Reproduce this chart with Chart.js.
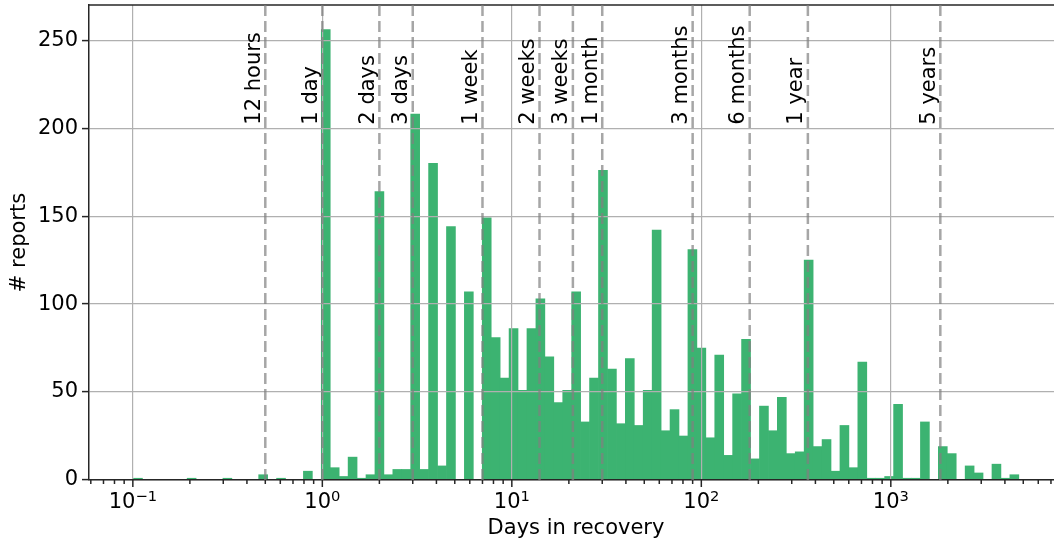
<!DOCTYPE html>
<html><head><meta charset="utf-8">
<script src="https://cdn.jsdelivr.net/npm/chart.js@4"></script>
<style>html,body{margin:0;padding:0;background:#fff;overflow:hidden}canvas{display:block}</style>
</head><body>
<canvas id="c" width="1054" height="543"></canvas>
<script>
// Histogram counts (# reports) per log-spaced bin of "days in recovery"
const counts = [
  1, 0, 0, 0, 0, 0, 1, 0, 0, 0,
  1, 0, 0, 0, 3, 0, 1, 0, 0, 5,
  0, 256, 7, 2, 13, 1, 3, 164, 3, 6,
  6, 208, 6, 180, 8, 144, 0, 107, 0, 149,
  81, 58, 86, 51, 86, 103, 70, 44, 51, 107,
  33, 58, 176, 63, 32, 69, 31, 51, 142, 28,
  40, 25, 131, 75, 24, 71, 14, 49, 80, 12,
  42, 28, 47, 15, 16, 125, 19, 23, 5, 31,
  7, 67, 1, 1, 2, 43, 1, 1, 33, 0,
  19, 15, 0, 8, 4, 0, 9, 1, 3, 0
];
const BIN_MIN = 0.1008;   // first bin edge (days)
const BIN_MAX = 5280;     // last bin edge (days)
const markerDays = [0.5, 1, 2, 3, 7, 14, 21, 30, 90, 180, 365, 1825];
const markerLabels = ['12 hours', '1 day', '2 days', '3 days', '1 week', '2 weeks', '3 weeks', '1 month', '3 months', '6 months', '1 year', '5 years'];
const majorTicks = [0.1, 1, 10, 100, 1000];
const majorExponents = ['\u22121', '0', '1', '2', '3'];
const yTicks = [0, 50, 100, 150, 200, 250];
const X_MIN = 0.0587, X_MAX = 7264;
const Y_MAX = 270;
const LABEL_Y = 202;

const nBins = counts.length;
const lo = Math.log10(BIN_MIN), hi = Math.log10(BIN_MAX);
const step = (hi - lo) / nBins;
const barData = counts.map((c, i) => ({ x: Math.pow(10, lo + (i + 0.5) * step), y: c }));

const FONT = "'DejaVu Sans', sans-serif";
const DARK = '#262626';

const decor = {
  id: 'decor',
  afterDraw(chart) {
    const { ctx, chartArea: a, scales: { x, y } } = chart;
    ctx.save();
    // top spine
    ctx.strokeStyle = DARK; ctx.lineWidth = 1.5;
    ctx.beginPath(); ctx.moveTo(a.left - 0.75, a.top); ctx.lineTo(a.right, a.top); ctx.stroke();
    // x major/minor tick marks
    for (let e = -2; e <= 4; e++) {
      for (let m = 1; m <= 9; m++) {
        const v = m * Math.pow(10, e);
        if (v < x.min || v > x.max) continue;
        const px = x.getPixelForValue(v);
        const len = m === 1 ? 7 : 4;
        ctx.beginPath(); ctx.moveTo(px, a.bottom); ctx.lineTo(px, a.bottom + len); ctx.stroke();
      }
    }
    // x tick labels 10^n
    ctx.fillStyle = '#000'; ctx.textBaseline = 'alphabetic'; ctx.textAlign = 'left';
    majorTicks.forEach((v, i) => {
      const px = x.getPixelForValue(v);
      ctx.font = `21px ${FONT}`; const w1 = ctx.measureText('10').width;
      ctx.font = `14.7px ${FONT}`; const w2 = ctx.measureText(majorExponents[i]).width;
      const x0 = px - (w1 + w2) / 2;
      ctx.font = `21px ${FONT}`; ctx.fillText('10', x0, a.bottom + 27.5);
      ctx.font = `14.7px ${FONT}`; ctx.fillText(majorExponents[i], x0 + w1, a.bottom + 21);
    });
    // dashed marker lines
    ctx.strokeStyle = 'rgba(128,128,128,0.7)'; ctx.lineWidth = 2.5; ctx.setLineDash([11, 5]);
    markerDays.forEach(d => {
      const px = x.getPixelForValue(d);
      ctx.beginPath(); ctx.moveTo(px, a.bottom); ctx.lineTo(px, a.top); ctx.stroke();
    });
    ctx.setLineDash([]);
    // marker labels
    ctx.font = `21px ${FONT}`; ctx.fillStyle = '#000';
    const ly = y.getPixelForValue(LABEL_Y);
    markerDays.forEach((d, i) => {
      const px = x.getPixelForValue(d);
      ctx.save(); ctx.translate(px - 5.5, ly); ctx.rotate(-Math.PI / 2);
      ctx.textAlign = 'left'; ctx.textBaseline = 'alphabetic';
      ctx.fillText(markerLabels[i], 0, 0);
      ctx.restore();
    });
    // axis titles
    ctx.textAlign = 'center'; ctx.textBaseline = 'alphabetic';
    ctx.fillText('Days in recovery', 576, a.bottom + 53.5);
    ctx.save(); ctx.translate(25, (a.top + a.bottom) / 2); ctx.rotate(-Math.PI / 2);
    ctx.fillText('# reports', 0, 0);
    ctx.restore();
    ctx.restore();
  }
};

new Chart(document.getElementById('c'), {
  type: 'bar',
  data: { datasets: [{ data: barData, backgroundColor: '#3cb371', borderWidth: 0, barPercentage: 1, categoryPercentage: 1 }] },
  options: {
    responsive: false, animation: false, devicePixelRatio: 1,
    layout: { padding: { top: 5, right: 0, left: 0, bottom: 0 } },
    plugins: { legend: { display: false }, tooltip: { enabled: false } },
    scales: {
      x: {
        type: 'logarithmic', min: X_MIN, max: X_MAX, offset: false,
        afterBuildTicks: s => { s.ticks = majorTicks.map(v => ({ value: v })); },
        ticks: { display: false },
        grid: { color: '#b0b0b0', lineWidth: 1.2, drawTicks: false, offset: false, z: 1 },
        border: { display: true, color: DARK, width: 1.5, z: 2 },
        afterFit: s => { s.height = 63; s.paddingLeft = 0; s.paddingRight = 0; }
      },
      y: {
        type: 'linear', min: 0, max: Y_MAX,
        afterBuildTicks: s => { s.ticks = yTicks.map(v => ({ value: v })); },
        ticks: { font: { family: FONT, size: 21 }, color: '#000', padding: 4 },
        grid: { color: '#b0b0b0', lineWidth: 1.2, tickLength: 7, tickColor: DARK, tickWidth: 1.5, z: 1 },
        border: { display: true, color: DARK, width: 1.5, z: 2 },
        afterFit: s => { s.width = 89; s.paddingTop = 0; s.paddingBottom = 0; }
      }
    }
  },
  plugins: [decor]
});
</script>
</body></html>
